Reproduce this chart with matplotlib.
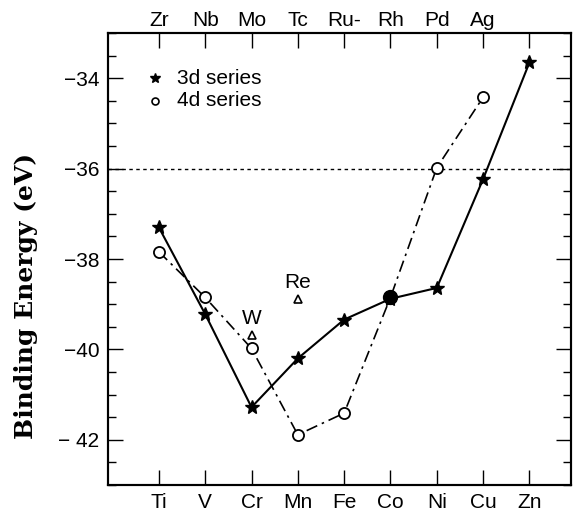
import matplotlib.pyplot as plt
from matplotlib.ticker import MultipleLocator

plt.rcParams['font.family'] = ['Liberation Sans', 'DejaVu Sans']

elements_3d = ['Ti', 'V', 'Cr', 'Mn', 'Fe', 'Co', 'Ni', 'Cu', 'Zn']
elements_4d = ['Zr', 'Nb', 'Mo', 'Tc', 'Ru-', 'Rh', 'Pd', 'Ag', '']
energy_3d = [-37.3, -39.22, -41.28, -40.2, -39.34, -38.88, -38.64, -36.23, -33.65]
energy_4d = [-37.84, -38.85, -39.98, -41.89, -41.41, -38.85, -35.98, -34.42]
# 5d points (W above Cr/Mo, Re above Mn/Tc)
labels_5d = ['W', 'Re']
pos_5d = [2, 3]
energy_5d = [-39.68, -38.88]

x3 = list(range(len(elements_3d)))
x4 = list(range(len(energy_4d)))

fig = plt.figure(figsize=(5.74, 5.17), dpi=100)
ax = fig.add_axes([0.188, 0.062, 0.807, 0.874])

ax.axhline(-36, color='black', lw=1.0, ls=(0, (2.5, 2.5)), zorder=1)

ax.plot(x3, energy_3d, color='black', lw=1.5, marker='*', ms=10,
        mfc='black', mec='black', zorder=3)
ax.plot(x4, energy_4d, color='black', lw=1.2, ls=(0, (7, 3, 1.5, 3)),
        marker='o', ms=8, mfc='white', mec='black', mew=1.3, zorder=3)
# filled point where the two series meet (Co / Rh)
ax.plot([x4[5]], [energy_4d[5]], marker='o', ms=10, color='black',
        ls='none', zorder=4)

ax.plot(pos_5d, energy_5d, ls='none', marker='^', ms=6, mfc='white',
        mec='black', mew=1.2, zorder=3)
for lab, xp, yp in zip(labels_5d, pos_5d, energy_5d):
    ax.text(xp, yp + 0.15, lab, ha='center', va='bottom', fontsize=15)

ax.set_xlim(-1.1, 8.9)
ax.set_ylim(-43, -33)
ax.set_xticks(x3)
ax.set_xticklabels(elements_3d, fontsize=15)
ax.yaxis.set_major_locator(MultipleLocator(2))
ax.yaxis.set_minor_locator(MultipleLocator(0.5))
ax.tick_params(axis='y', which='major', direction='in', length=11, width=1,
               right=True, labelsize=15, pad=6)
ax.tick_params(axis='y', which='minor', direction='in', length=6, width=1,
               right=True)
ax.tick_params(axis='x', which='major', direction='in', length=11, width=1,
               pad=6)
ax.set_yticks([-34, -36, -38, -40, -42])
ax.set_yticklabels(['\u221234', '\u221236', '\u221238', '\u221240', '\u2212 42'])

top = ax.twiny()
top.set_xlim(ax.get_xlim())
top.set_xticks(x3)
top.set_xticklabels(elements_4d, fontsize=15)
top.tick_params(axis='x', direction='in', length=11, width=1, pad=2)

for a in (ax, top):
    for s in a.spines.values():
        s.set_linewidth(1.5)

ax.plot([-0.09], [-34], ls='none', marker='*', ms=7, color='black')
ax.plot([-0.09], [-34.5], ls='none', marker='o', ms=5, mfc='white', mec='black', mew=1.2)
ax.text(0.4, -34, '3d series', fontsize=15, va='center', ha='left')
ax.text(0.4, -34.5, '4d series', fontsize=15, va='center', ha='left')

fig.text(0.045, 1 - 296 / 517, 'Binding Energy (eV)', rotation=90,
         ha='center', va='center', fontsize=18, fontweight='bold',
         family='DejaVu Serif')

fig.savefig('out.png', dpi=100)
